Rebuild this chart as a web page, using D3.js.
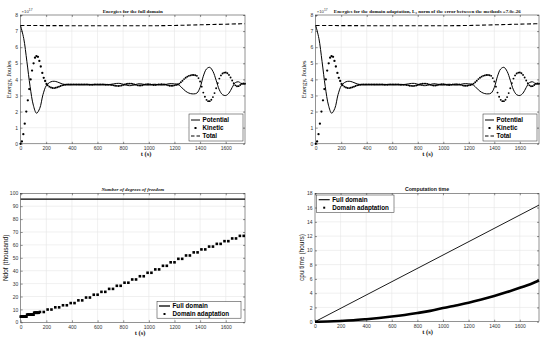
<!DOCTYPE html>
<html><head><meta charset="utf-8">
<script src="https://cdn.jsdelivr.net/npm/d3@7"></script>
<style>body{margin:0;background:#fff}svg{display:block}</style>
</head><body>
<svg id="c" width="550" height="341"></svg>
<script>
// ---------- data ----------
const xTicks = [0,200,400,600,800,1000,1200,1400,1600];
const yTicksEnergy = [0,1,2,3,4,5,6,7,8];
const yTicksNdof = [0,10,20,30,40,50,60,70,80,90,100];
const yTicksCpu = [0,2,4,6,8,10,12,14,16,18];

// energies (units of 1e17 J)
const potT = [0,25,50,75,100,125,150,175,200,225,250,275,300,325,350,375,400,425,450,475,500,525,550,575,600,625,650,675,700,725,750,775,800,825,850,875,900,925,950,975,1000,1025,1050,1075,1100,1125,1150,1175,1200,1225,1250,1275,1300,1325,1350,1375,1400,1425,1450,1475,1500,1525,1550,1575,1600,1625,1650,1675,1700,1725,1750];
const potential = [7.35,6.55,5.1,3.55,2.4,1.9,2.2,3.05,3.6,3.8,3.88,3.87,3.8,3.72,3.68,3.66,3.66,3.67,3.67,3.66,3.66,3.67,3.68,3.67,3.66,3.66,3.67,3.68,3.69,3.72,3.75,3.75,3.7,3.64,3.61,3.63,3.69,3.73,3.71,3.66,3.65,3.69,3.7,3.67,3.65,3.67,3.72,3.74,3.72,3.7,3.55,3.35,3.2,3.12,3.1,3.15,3.5,4.2,4.65,4.75,4.5,3.95,3.35,3.05,3.0,3.15,3.5,3.8,3.85,3.72,3.72];
// kinetic: sampled irregularly at the start, then every 12.5 s from 212.5 s
const kinTEarly = [0,11,22,33,45,57,68,79,90,102,113,124,136,147,158,170,181,192,203];
const kinTLate = d3.range(212.5, 1750.1, 12.5);
const kinT = kinTEarly.concat(kinTLate);
const kinetic = [0,0.15,0.6,1.25,2.0,2.7,3.4,4.0,4.55,5.0,5.35,5.45,5.4,5.15,4.8,4.4,4.1,3.9,3.72,
  3.63,3.55,3.5,3.47,3.46,3.48,3.51,3.55,
  3.59,3.63,3.65,3.67,3.68,3.69,3.69,3.69,
  3.69,3.68,3.68,3.68,3.68,3.69,3.69,3.69,
  3.69,3.68,3.67,3.67,3.67,3.68,3.69,3.69,
  3.69,3.69,3.69,3.68,3.67,3.67,3.66,3.66,
  3.65,3.63,3.61,3.6,3.59,3.6,3.62,3.65,
  3.68,3.71,3.73,3.74,3.74,3.72,3.69,3.66,
  3.63,3.62,3.62,3.64,3.67,3.69,3.7,3.7,
  3.68,3.66,3.65,3.65,3.66,3.68,3.69,3.7,
  3.69,3.68,3.66,3.63,3.61,3.61,3.61,3.63,
  3.65,3.68,3.74,3.82,3.92,4.02,4.1,4.17,
  4.22,4.25,4.27,4.27,4.26,4.22,4.08,3.87,
  3.55,3.18,2.92,2.73,2.65,2.65,2.74,2.9,
  3.15,3.45,3.77,4.05,4.25,4.37,4.42,4.43,
  4.38,4.28,4.12,3.93,3.76,3.63,3.57,3.58,
  3.65,3.73,3.75,3.73];
const totT = [0,100,200,300,400,500,600,700,800,900,1000,1100,1200,1300,1400,1500,1600,1700,1750];
const total = [7.35,7.35,7.34,7.34,7.33,7.33,7.33,7.33,7.33,7.33,7.33,7.34,7.35,7.37,7.39,7.41,7.43,7.45,7.46];

// degrees of freedom (thousand)
const ndofFullT = [0,1750];
const ndofFull = [95.5,95.5];
const ndofT = [0,5,10,15,20,25,30,35,40,45,50,55,60,65,70,75,80,85,90,95,100,105,110,115,120,125,130,135,140,
  150,180,210,240,270,300,330,360,390,420,450,480,510,540,570,600,630,660,690,720,750,780,810,840,870,900,930,960,990,1020,1050,1080,1110,1140,1170,1200,1230,1260,1290,1320,1350,1380,1410,1440,1470,1500,1530,1560,1590,1620,1650,1680,1710,1740];
const ndofAdapt = [4.4,4.4,4.4,4.4,4.4,4.4,4.4,4.4,4.4,4.4,5.9,5.9,5.9,5.9,5.9,5.9,5.9,5.9,5.9,5.9,5.9,7.4,7.4,7.4,7.4,7.4,7.4,7.4,7.4,
  8.0,8.0,9.9,9.9,11.6,11.6,13.2,13.2,14.9,14.9,17.0,17.0,19.2,19.2,21.4,21.4,23.6,23.6,25.9,25.9,28.3,28.3,30.7,30.7,33.2,33.2,35.7,35.7,38.4,38.4,41.0,41.0,43.8,43.8,46.5,46.5,49.2,49.2,51.8,51.8,54.2,54.2,56.5,56.5,58.7,58.7,60.8,60.8,62.9,62.9,65.0,65.0,67.0,67.0];

// cpu time (hours)
const cpuFullT = [0,1750];
const cpuFull = [0,16.35];
const cpuT = [0,100,200,300,400,500,600,700,800,900,1000,1100,1200,1300,1400,1500,1600,1700,1750];
const cpuAdapt = [0,0.03,0.1,0.2,0.35,0.52,0.72,0.95,1.22,1.52,1.92,2.28,2.65,3.1,3.6,4.15,4.75,5.4,5.78];

// ---------- drawing ----------
const svg = d3.select('#c');
const SERIF = '"Liberation Serif","DejaVu Serif",serif';
const SANS = '"Liberation Sans",Arial,sans-serif';
const AX = '#262626';
const fmt = d3.format('d');

function panel(c){
  const g = svg.append('g');
  const x = d3.scaleLinear().domain([0,1750]).range([c.l,c.r]);
  const y = d3.scaleLinear().domain(c.yd).range([c.b,c.t]);
  g.append('g').selectAll('line').data(xTicks.slice(1)).join('line')
    .attr('x1',d=>x(d)).attr('x2',d=>x(d)).attr('y1',c.t).attr('y2',c.b)
    .attr('stroke','#e6e6e6').attr('stroke-width',0.6);
  g.append('g').selectAll('line').data(c.yt.slice(1,-1)).join('line')
    .attr('y1',d=>y(d)).attr('y2',d=>y(d)).attr('x1',c.l).attr('x2',c.r)
    .attr('stroke','#e6e6e6').attr('stroke-width',0.6);
  const ax = g.append('g').attr('transform',`translate(0,${c.b})`)
    .call(d3.axisBottom(x).tickValues(xTicks).tickFormat(fmt).tickSizeInner(-2).tickSizeOuter(0).tickPadding(3));
  const ay = g.append('g').attr('transform',`translate(${c.l},0)`)
    .call(d3.axisLeft(y).tickValues(c.yt).tickFormat(fmt).tickSizeInner(-2).tickSizeOuter(0).tickPadding(2.5));
  const at = g.append('g').attr('transform',`translate(0,${c.t})`)
    .call(d3.axisTop(x).tickValues(xTicks).tickSizeInner(-2).tickSizeOuter(0).tickFormat(''));
  const ar = g.append('g').attr('transform',`translate(${c.r},0)`)
    .call(d3.axisRight(y).tickValues(c.yt).tickSizeInner(-2).tickSizeOuter(0).tickFormat(''));
  [ax,ay,at,ar].forEach(a=>{
    a.select('.domain').remove();
    a.selectAll('line').attr('stroke',AX).attr('stroke-width',0.5);
    a.selectAll('text').attr('font-family',SANS).attr('font-size',5).attr('fill','#333');
  });
  g.append('rect').attr('x',c.l).attr('y',c.t).attr('width',c.r-c.l).attr('height',c.b-c.t)
    .attr('fill','none').attr('stroke',AX).attr('stroke-width',0.5);
  g.append('text').attr('x',(c.l+c.r)/2).attr('y',c.t-2.5).attr('text-anchor','middle')
    .attr('font-family',c.titleFont||SERIF).attr('font-weight','bold').attr('font-size',c.titleSize||5)
    .attr('font-style',c.titleStyle||'normal').attr('fill','#111').text(c.title);
  g.append('text').attr('x',c.xlx).attr('y',c.b+12.5).attr('text-anchor','middle')
    .attr('font-family',SERIF).attr('font-weight','bold').attr('font-size',6.5).attr('fill','#111')
    .attr('xml:space','preserve').text('t (s)');
  g.append('text').attr('transform',`translate(${c.ylx},${(c.t+c.b)/2}) rotate(-90)`)
    .attr('text-anchor','middle').attr('font-family',c.ylFont).attr('font-size',6.5).attr('fill','#111')
    .text(c.ylabel);
  return {g,x,y};
}

function legend(g,box,items){
  g.append('rect').attr('x',box.x).attr('y',box.y).attr('width',box.w).attr('height',box.h)
    .attr('fill','#fff').attr('stroke',AX).attr('stroke-width',0.5);
  items.forEach((it,i)=>{
    const cy = box.y + box.pad + i*box.dy;
    const x0 = box.x+2, x1 = box.x+box.ls;
    if(it.type==='line'||it.type==='dash'){
      g.append('line').attr('x1',x0).attr('x2',x1).attr('y1',cy).attr('y2',cy)
        .attr('stroke','#000').attr('stroke-width',it.w||1)
        .attr('stroke-dasharray',it.type==='dash'?'3.5,2':null);
    } else {
      g.append('rect').attr('x',(x0+x1)/2-1).attr('y',cy-1).attr('width',2).attr('height',2).attr('fill','#000');
    }
    g.append('text').attr('x',x1+2.5).attr('y',cy).attr('dy','0.35em')
      .attr('font-family',SANS).attr('font-weight','bold').attr('font-size',6.3).attr('fill','#000').text(it.label);
  });
}

function energyPanel(l,r,title,xlx){
  const {g,x,y} = panel({l,r,t:15,b:143.8,yd:[0,8],yt:yTicksEnergy,title,xlx,ylx:l-10,
    ylabel:'Energy, Joules',ylFont:SERIF});
  const line = d3.line().curve(d3.curveCatmullRom);
  g.append('path').attr('d',line(totT.map((t,i)=>[x(t),y(total[i])])))
    .attr('fill','none').attr('stroke','#000').attr('stroke-width',1.1).attr('stroke-dasharray','4,2.4');
  g.append('path').attr('d',line(potT.map((t,i)=>[x(t),y(potential[i])])))
    .attr('fill','none').attr('stroke','#000').attr('stroke-width',1);
  g.append('g').selectAll('circle').data(kinT).join('circle')
    .attr('cx',d=>x(d)).attr('cy',(d,i)=>y(kinetic[i])).attr('r',(d,i)=>i<kinTEarly.length?1.15:0.95).attr('fill','#000');
  g.append('text').attr('x',l+1).attr('y',12.5).attr('font-family',SANS).attr('font-size',4.3).attr('fill','#333')
    .text('×10').append('tspan').attr('dy',-1.5).attr('font-size',3.3).text('17');
  legend(g,{x:r-56,y:114,w:54,h:27,pad:6,dy:8,ls:11},[
    {type:'line',label:'Potential'},{type:'dot',label:'Kinetic'},{type:'dash',label:'Total'}]);
}

energyPanel(20.5,245,'Energies for the full domain',146);
energyPanel(315.7,539,'Energies for the domain adaptation, L\u2082 norm of the error between the methods =7.0e-26',427.5);

{
  const {g,x,y} = panel({l:20.7,r:245,t:193.3,b:322.3,yd:[0,100],yt:yTicksNdof,
    title:'Number of degrees of freedom',titleStyle:'italic',xlx:140,ylx:8,ylabel:'Ndof (thousand)',ylFont:SANS});
  g.append('path').attr('d',d3.line()(ndofFullT.map((t,i)=>[x(t),y(ndofFull[i])])))
    .attr('fill','none').attr('stroke','#000').attr('stroke-width',1.3);
  g.append('g').selectAll('rect').data(ndofT).join('rect')
    .attr('x',d=>x(d)-1.3).attr('y',(d,i)=>y(ndofAdapt[i])-1.3).attr('width',2.6).attr('height',2.6).attr('fill','#000');
  legend(g,{x:157,y:301.7,w:84,h:16.5,pad:4.3,dy:8,ls:13},[
    {type:'line',label:'Full domain',w:1.3},{type:'dot',label:'Domain adaptation'}]);
}

{
  const {g,x,y} = panel({l:315,r:539,t:193.3,b:321.7,yd:[0,18],yt:yTicksCpu,
    title:'Computation time',titleFont:SANS,titleSize:5.2,xlx:427.5,ylx:304,ylabel:'cpu time (hours)',ylFont:SANS});
  g.append('path').attr('d',d3.line()(cpuFullT.map((t,i)=>[x(t),y(cpuFull[i])])))
    .attr('fill','none').attr('stroke','#000').attr('stroke-width',0.9);
  g.append('path').attr('d',d3.line().curve(d3.curveCatmullRom)(cpuT.map((t,i)=>[x(t),y(cpuAdapt[i])])))
    .attr('fill','none').attr('stroke','#000').attr('stroke-width',2.6);
  legend(g,{x:316.7,y:195,w:77.3,h:17.7,pad:4.7,dy:8,ls:13},[
    {type:'line',label:'Full domain',w:1.1},{type:'dot',label:'Domain adaptation'}]);
}
</script>
</body></html>
